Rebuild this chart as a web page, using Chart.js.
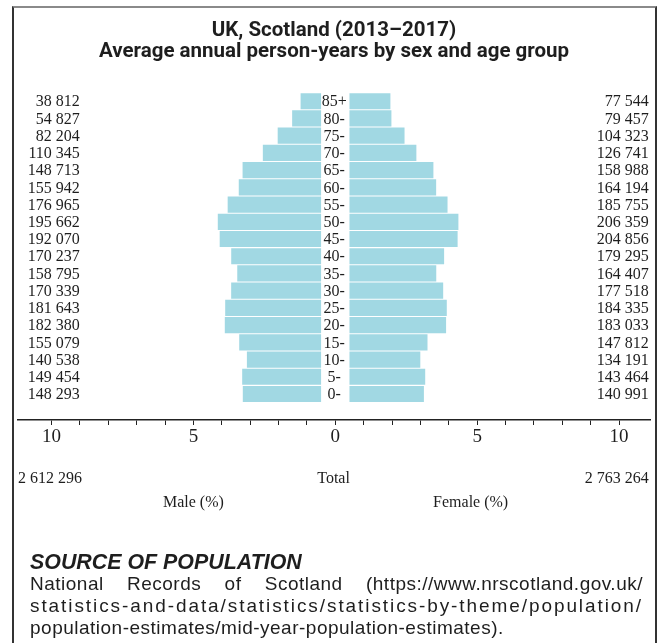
<!DOCTYPE html>
<html>
<head>
<meta charset="utf-8">
<script src="https://cdn.jsdelivr.net/npm/chart.js@4/dist/chart.umd.min.js"></script>
<style>
  html, body { margin: 0; padding: 0; background: #fff; }
  body { width: 658px; height: 643px; position: relative; overflow: hidden; }
  #frame { position: absolute; left: 12px; top: 6px; width: 641px; height: 660px;
           border-top: 2px solid #8a8a8a; border-left: 2px solid #333; border-right: 2px solid #333; }
  #c { position: absolute; left: 0; top: 0; }
  #src { position: absolute; left: 30px; top: 551px; width: 613px; color: #1e1e1e;
         font-family: "Liberation Sans", Arial, sans-serif; }
  #src .h { font-weight: bold; font-style: italic; font-size: 21.4px; line-height: 22px; }
  #src .l { font-size: 19px; line-height: 22px; white-space: nowrap; letter-spacing: 0.5px; }
  #src .j { text-align: justify; text-align-last: justify; }
</style>
</head>
<body>
<div id="frame"></div>
<canvas id="c" width="658" height="643"></canvas>
<div id="src">
  <div class="h">SOURCE OF POPULATION</div>
  <div class="l j">National Records of Scotland (https://www.nrscotland.gov.uk/</div>
  <div class="l"><span id="l2">statistics-and-data/statistics/statistics-by-theme/population/</span></div>
  <div class="l">population-estimates/mid-year-population-estimates).</div>
</div>
<script>
// ---- data (top row first) ----
const ageGroups = ['85+','80-','75-','70-','65-','60-','55-','50-','45-','40-','35-','30-','25-','20-','15-','10-','5-','0-'];
const maleCounts = [38812,54827,82204,110345,148713,155942,176965,195662,192070,170237,158795,170339,181643,182380,155079,140538,149454,148293];
const femaleCounts = [77544,79457,104323,126741,158988,164194,185755,206359,204856,179295,164407,177518,184335,183033,147812,134191,143464,140991];
const maleTotal = 2612296;
const femaleTotal = 2763264;
const xTickValues = [-10,-9,-8,-7,-6,-5,-4,-3,-2,-1,0,1,2,3,4,5,6,7,8,9,10];
const titleLines = ['UK, Scotland (2013\u20132017)', 'Average annual person-years by sex and age group'];

// ---- layout constants ----
const GAP = 0.5;           // half-width of the central label gap, in axis units
const BAR_COLOR = '#a1d8e3';
const TEXT = '#1e1e1e';
const SERIF = '"Liberation Serif", "Times New Roman", serif';

const grand = maleTotal + femaleTotal;
const n = ageGroups.length;
const rowY = i => n - 1 - i;
const fmt = v => String(v).replace(/\B(?=(\d{3})+(?!\d))/g, ' ');

const maleData = maleCounts.map((v, i) => ({ x: [-(GAP + v / grand * 100), -GAP], y: rowY(i) }));
const femaleData = femaleCounts.map((v, i) => ({ x: [GAP, GAP + v / grand * 100], y: rowY(i) }));

const labelPlugin = {
  id: 'pyramidLabels',
  afterDraw(chart) {
    const { ctx, chartArea } = chart;
    const x = chart.scales.x, y = chart.scales.y;
    ctx.save();
    ctx.fillStyle = TEXT;
    ctx.textBaseline = 'middle';
    ctx.font = '16px ' + SERIF;
    ageGroups.forEach((a, i) => {
      const py = y.getPixelForValue(rowY(i)) + 1;
      ctx.textAlign = 'right';
      ctx.fillText(fmt(maleCounts[i]), x.getPixelForValue(-9.0), py);
      ctx.fillText(fmt(femaleCounts[i]), x.getPixelForValue(11.05), py);
      ctx.textAlign = 'center';
      ctx.fillText(a, x.getPixelForValue(0) - 1, py);
    });
    const ty = chartArea.bottom + 59;
    ctx.textAlign = 'left';
    ctx.fillText(fmt(maleTotal), chartArea.left, ty);
    ctx.textAlign = 'right';
    ctx.fillText(fmt(femaleTotal), x.getPixelForValue(11.05), ty);
    ctx.textAlign = 'center';
    ctx.fillText('Total', x.getPixelForValue(-0.06), ty);
    const ly = chartArea.bottom + 83;
    ctx.fillText('Male (%)', x.getPixelForValue(-5), ly);
    ctx.fillText('Female (%)', x.getPixelForValue(4.77), ly);
    ctx.restore();
  }
};

new Chart(document.getElementById('c'), {
  type: 'bar',
  data: {
    datasets: [
      { label: 'Male', data: maleData, backgroundColor: BAR_COLOR, borderWidth: 0, grouped: false,
        barPercentage: 0.94, categoryPercentage: 1 },
      { label: 'Female', data: femaleData, backgroundColor: BAR_COLOR, borderWidth: 0, grouped: false,
        barPercentage: 0.94, categoryPercentage: 1 }
    ]
  },
  options: {
    indexAxis: 'y',
    responsive: false,
    animation: false,
    events: [],
    layout: { padding: { left: 18, right: 8, top: 0, bottom: 193 } },
    plugins: {
      legend: { display: false },
      tooltip: { enabled: false },
      title: {
        display: true,
        text: titleLines,
        color: TEXT,
        font: { family: 'Roboto, "Liberation Sans", sans-serif', size: 20.5, weight: 'bold', lineHeight: 1.03 },
        padding: { top: 20.5, bottom: 17.5 }
      }
    },
    scales: {
      y: {
        type: 'linear',
        display: false,
        offset: false,
        grid: { offset: false },
        min: -1.51,
        max: 18.22
      },
      x: {
        type: 'linear',
        min: -11.18,
        max: 11.09,
        afterBuildTicks: s => { s.ticks = xTickValues.map(v => ({ value: v })); },
        afterFit: s => { s.height = 30; },
        border: { display: true, color: '#222', width: 1.5 },
        grid: { drawOnChartArea: false, drawTicks: true, tickLength: 5, color: '#222', lineWidth: 1 },
        ticks: {
          autoSkip: false, maxRotation: 0, padding: 1, color: TEXT,
          font: { family: SERIF, size: 19 },
          callback: v => (v % 5 === 0 ? String(Math.abs(v)) : '')
        }
      }
    }
  },
  plugins: [labelPlugin]
});

// fit the unbroken second source line to the column width
(function () {
  const s = document.getElementById('l2');
  const target = 613;
  const len = s.textContent.length;
  s.style.letterSpacing = '0px';
  const w = s.getBoundingClientRect().width;
  s.style.letterSpacing = ((target - w) / len) + 'px';
})();
</script>
</body>
</html>
